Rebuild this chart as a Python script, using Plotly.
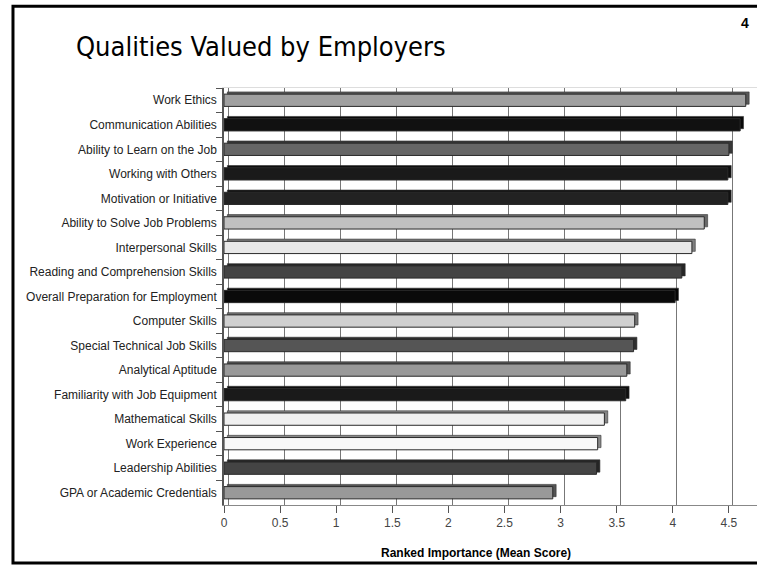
import plotly.graph_objects as go

categories = [
    "Work Ethics", "Communication Abilities", "Ability to Learn on the Job",
    "Working with Others", "Motivation or Initiative", "Ability to Solve Job Problems",
    "Interpersonal Skills", "Reading and Comprehension Skills",
    "Overall Preparation for Employment", "Computer Skills",
    "Special Technical Job Skills", "Analytical Aptitude",
    "Familiarity with Job Equipment", "Mathematical Skills", "Work Experience",
    "Leadership Abilities", "GPA or Academic Credentials",
]
scores = [4.65, 4.60, 4.50, 4.49, 4.49, 4.28, 4.17, 4.08, 4.02,
          3.66, 3.65, 3.59, 3.58, 3.39, 3.33, 3.32, 2.93]
tick_values = [0, 0.5, 1, 1.5, 2, 2.5, 3, 3.5, 4, 4.5]
tick_labels = ["0", "0.5", "1", "1.5", "2", "2.5", "3", "3.5", "4", "4.5"]

# style
grays = [160, 17, 102, 26, 34, 192, 232, 68, 10, 208, 85, 153, 26, 240, 248, 68, 153]
face_colors = [f"rgb({g},{g},{g})" for g in grays]
side_colors = [f"rgb({int(g*0.55)},{int(g*0.55)},{int(g*0.55)})" for g in grays]

depth_x = 0.03
depth_y = 0.09
xmax = 4.75

fig = go.Figure()
# 3D depth (top/right faces)
fig.add_trace(go.Bar(
    y=categories, x=scores, base=depth_x, orientation="h",
    width=0.5, offset=-0.25 - depth_y,
    marker=dict(color=side_colors, line=dict(color="#333", width=0.6)),
    hoverinfo="skip", showlegend=False,
))
# front faces
fig.add_trace(go.Bar(
    y=categories, x=scores, orientation="h", width=0.5,
    marker=dict(color=face_colors, line=dict(color="#2a2a2a", width=1)),
    showlegend=False,
))
# carrier for back-wall gridlines
fig.add_trace(go.Scatter(
    x=scores, y=categories, xaxis="x2", mode="markers",
    marker=dict(opacity=0), hoverinfo="skip", showlegend=False,
))

font_lbl = "Liberation Sans, Arial, sans-serif"
n = len(categories)

fig.update_layout(
    width=757, height=565,
    margin=dict(l=224, r=0, t=88, b=60),
    paper_bgcolor="white", plot_bgcolor="white",
    barmode="overlay",
    xaxis=dict(
        range=[0, xmax], tickvals=tick_values, ticktext=tick_labels,
        showgrid=False, zeroline=False, showline=True, linecolor="#888",
        linewidth=1, ticks="outside", ticklen=7, tickcolor="#555",
        tickfont=dict(family=font_lbl, size=12, color="#444"),
    ),
    xaxis2=dict(
        overlaying="x", range=[-0.036, xmax - 0.036], tickvals=tick_values,
        showgrid=True, gridcolor="#777", gridwidth=1, showticklabels=False,
        zeroline=False, side="top", showline=True, linecolor="#ddd",
    ),
    yaxis=dict(
        range=[n - 0.5, -0.5], showline=True, linecolor="#555", linewidth=1.5,
        ticks="outside", tickson="boundaries", ticklen=6, tickcolor="#555",
        tickfont=dict(family=font_lbl, size=12, color="#222"),
        ticklabelstandoff=3, showgrid=False,
    ),
    annotations=[
        dict(text="Qualities Valued by Employers", xref="paper", yref="paper",
             x=0.069, y=1.10, xanchor="center", yanchor="middle", showarrow=False,
             font=dict(family="DejaVu Sans Condensed, DejaVu Sans",
                       size=27, color="black")),
        dict(text="<b>4</b>", xref="paper", yref="paper", x=0.977, y=1.156,
             xanchor="center", yanchor="middle", showarrow=False,
             font=dict(family=font_lbl, size=14, color="black")),
        dict(text="<b>Ranked Importance (Mean Score)</b>", xref="paper", yref="paper",
             x=0.473, y=-0.115, xanchor="center", yanchor="middle", showarrow=False,
             font=dict(family=font_lbl, size=12, color="black")),
    ],
    shapes=[
        dict(type="rect", xref="paper", yref="paper", x0=-0.3959, x1=1.03,
             y0=-0.1388, y1=1.196, line=dict(color="black", width=3)),
    ],
)

fig.write_html("out.html", config={"displayModeBar": False},
               post_script="document.body.style.margin='0';")
